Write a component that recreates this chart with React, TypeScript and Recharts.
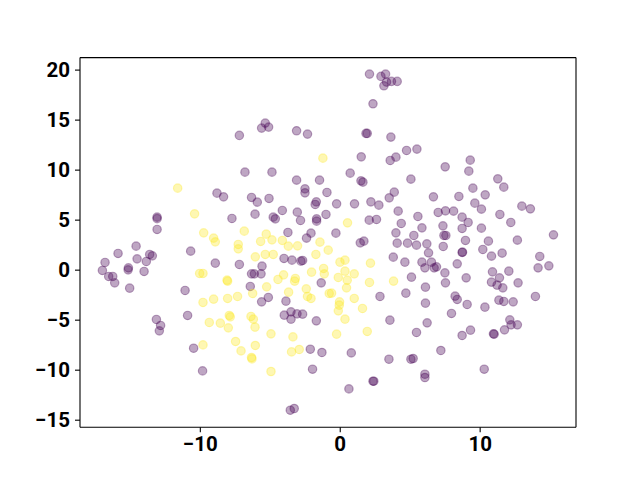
import React from "react";
import { ScatterChart, Scatter, XAxis, YAxis, ReferenceLine } from "recharts";

// cluster 0 (purple) points [x, y]
const purpleX = [
  -7.21, -5.36, -5.62, -5.12, -3.12, -2.34, -6.81, -4.88, -3.12, -1.48,
  2.09, 2.91, 3.24, 3.31, 3.12, 3.66, 4.07, 2.34, 1.84, 1.93, 3.62, 1.5, 3.57, 3.98, 4.74, 5.48, 7.5, 0.71, 1.48, 1.62, 5.05,
  9.29, 9.19, 11.26, 11.69,
  -13.09, -13.09, -13.09, -14.59, -15.88, -10.69, -13.62, -13.43, -14.52, -13.86, -16.81, -15.14, -15.16, -17.0, -14.02, -16.55, -16.26, -16.12, -15.05, -11.09,
  -8.81, -8.34, -6.34, -5.93, -5.09, -2.52, -2.52, -0.95, -1.71, -1.79, -7.74, -6.09, -4.79, -4.64, -4.14, -3.07, -2.84, -1.69, -1.69, -1.02,
  -3.74, -2.09, -2.41, -4.02, -3.45, -2.81, -2.69, -8.93, -7.21, -5.59, -6.34, -6.14, -5.66, -1.36, -6.43, -5.14, -5.62, -3.88,
  3.86, 3.5, 6.66, -0.26, 1.02, 2.19, 2.76, 4.14, 5.55, 7.0, 7.52, 8.1, 2.07, 2.59, 4.36, 5.84, 7.34, -0.31, 3.98, 5.26, 7.41, 7.55,
  1.43, 1.69, 4.07, 4.81, 5.45, 6.19, 7.36, 6.31, 3.79, 4.62, 5.84, 6.05, 6.52, 6.71, 6.88, 7.48, 5.09, 7.52, 6.09, 2.84, 4.69, 6.09,
  9.48, 8.48, 10.36, 9.62, 10.09, 12.98, 13.59, 11.41, 8.71, 9.14, 12.19, 8.71, 10.09, 15.24, 8.95, 10.59, 12.66, 8.71, 8.74, 10.19, 10.81, 11.57,
  14.26, 8.36, 14.14, 14.91, 10.88, 12.05, 9.0, 11.38, 10.81, 11.21, 11.62, 12.71, 13.95, 8.21, 8.36, 9.07, 10.34, 11.34, 11.69, 12.36,
  -13.14, -12.84, -12.93, -10.91, -10.48, -9.84,
  -4.0, -3.52, -3.52, -3.09, -2.69, -1.71, -2.14, -1.31, -1.98, -3.57, -3.29,
  3.55, 7.95, 6.21, 5.45, 0.79, 3.48, 5.05, 5.21, 7.19, 6.05, 6.05, 2.34, 2.4, 0.62,
  9.31, 8.71, 10.95, 11.0, 11.74, 12.12, 12.21, 12.66, 10.29,
];
const purpleY = [
  13.47, 14.7, 14.2, 14.3, 13.93, 13.6, 9.8, 9.8, 9.0, 9.0,
  19.6, 19.37, 19.6, 18.8, 18.43, 18.87, 18.87, 16.63, 13.67, 13.67, 13.3, 11.33, 10.97, 11.3, 11.97, 12.1, 10.33, 9.7, 8.93, 8.8, 9.1,
  11.0, 9.9, 9.13, 8.3,
  5.3, 5.15, 4.07, 2.4, 1.67, 1.9, 1.57, 1.43, 1.13, 0.87, 0.77, 0.23, 0.03, -0.03, -0.13, -0.63, -0.63, -1.27, -1.8, -2.03,
  7.7, 7.33, 7.27, 6.8, 7.17, 8.13, 7.73, 7.77, 6.83, 6.57, 5.17, 5.6, 5.3, 5.13, 5.97, 5.8, 4.97, 5.13, 4.9, 5.57,
  3.77, 3.7, 3.2, 1.17, 1.0, 0.9, 0.97, 0.7, 0.57, 0.4, -0.37, -0.37, -0.37, -1.27, -1.63, -2.73, -3.17, -3.1,
  7.8, 7.23, 7.33, 6.63, 6.63, 6.83, 6.5, 5.9, 5.37, 5.77, 5.93, 5.9, 5.0, 5.07, 4.67, 4.23, 4.43, 3.7, 3.73, 3.47, 3.47, 3.47,
  2.73, 2.9, 2.7, 2.7, 2.5, 2.63, 2.37, 1.73, 1.3, 0.8, 0.8, 0.23, 0.8, 0.23, 0.33, -0.27, -0.7, -1.27, -1.7, -2.63, -2.3, -3.3,
  8.2, 7.37, 7.53, 6.7, 6.1, 6.4, 6.13, 5.57, 5.3, 4.77, 4.77, 4.17, 4.2, 3.53, 2.97, 2.9, 3.0, 1.77, 1.8, 2.07, 1.4, 1.7,
  1.37, 0.63, 0.23, 0.43, -0.17, -0.1, -0.77, -0.77, -1.2, -1.5, -1.77, -1.27, -2.63, -2.6, -2.93, -3.43, -3.7, -3.0, -3.13, -3.17,
  -4.93, -5.53, -6.07, -4.53, -7.8, -10.07,
  -4.5, -4.17, -4.9, -4.37, -4.4, -5.07, -7.9, -8.23, -9.9, -14.0, -13.83,
  -5.0, -4.33, -5.27, -6.23, -8.27, -8.9, -8.9, -8.83, -8.03, -10.4, -10.73, -11.1, -11.1, -11.87,
  -6.0, -6.53, -6.37, -6.4, -5.97, -4.97, -5.47, -5.47, -9.9,
];

// cluster 1 (yellow) points
const yellowX = [
  -1.24, -11.62, -10.41, -9.76, -10.05, -9.81, -9.81, -9.05, -8.93, -6.86, -5.29, -5.69, -4.88, -4.14, -3.71, -3.05, -1.45,
  -7.29, -7.29, -6.07, -5.36, -4.79, -1.74, -0.86, -8.09, -8.05, -4.05, -4.45, -3.26, -3.21, -2.05, -1.19, -1.14,
  -5.26, -6.26, -3.69, -2.43, -2.34, -2.09, -0.79, -9.05, -8.05, -7.34,
  0.52, -0.02, 0.34, 2.16, 0.34, 1.0, -0.14, 0.5, 2.09, 3.81, 0.45, -0.62, -0.05, 1.0,
  -9.36, -9.81, -8.57, -8.0, -7.93, -7.86, -6.38, -6.21, -6.09, -4.95, -7.48, -7.09, -6.07, -6.34, -6.31, -4.95,
  -3.38, -3.48, -2.93, -0.07, -0.14, 1.59, 0.34, -0.26, 1.93,
];
const yellowY = [
  11.2, 8.2, 5.63, 3.73, -0.33, -0.33, -3.23, 3.2, 2.83, 3.9, 3.6, 2.87, 3.03, 2.97, 2.4, 2.43, 2.8,
  2.57, 2.13, 1.33, 1.57, 1.57, 1.57, 2.0, -1.0, -1.1, -0.47, -0.93, -1.1, -0.83, -0.2, 0.17, -0.37,
  -1.67, -2.33, -2.2, -1.87, -2.63, -2.83, -2.33, -2.9, -2.83, -2.63,
  4.73, 0.8, 1.0, 0.7, -0.1, -0.37, -0.73, -1.0, -1.23, -1.1, -1.77, -2.3, -3.17, -2.83,
  -5.23, -7.47, -5.3, -5.77, -4.53, -4.67, -4.63, -4.9, -5.7, -6.37, -7.13, -8.07, -7.53, -8.73, -8.87, -10.13,
  -6.67, -8.17, -7.93, -3.5, -4.07, -3.83, -4.9, -6.4, -6.13,
];

const xTicks = [-10, 0, 10];
const yTicks = [-15, -10, -5, 0, 5, 10, 15, 20];

const X_MIN = -18.6;
const X_MAX = 16.85;
const Y_MIN = -15.7;
const Y_MAX = 21.25;

const PURPLE = "#440154";
const YELLOW = "#fde725";

const purpleData = purpleX.map((x, i) => ({ x, y: purpleY[i] }));
const yellowData = yellowX.map((x, i) => ({ x, y: yellowY[i] }));

const fmt = (v: number) => (v < 0 ? "\u2212" + Math.abs(v) : String(v));

const makeShape = (color: string) => (props: any) => (
  <circle
    cx={props.cx}
    cy={props.cy}
    r={4.2}
    fill={color}
    fillOpacity={0.35}
    stroke={color}
    strokeOpacity={0.35}
    strokeWidth={1.2}
  />
);

const tickStyle = {
  fill: "#000",
  fontFamily: "Roboto, 'DejaVu Sans', sans-serif",
  fontWeight: 700,
  fontSize: 20.5,
};

export default function App() {
  return (
    <div style={{ position: "absolute", left: 0, top: 0, width: 640, height: 480, background: "#fff" }}>
      <ScatterChart
        width={640}
        height={480}
        margin={{ top: 57.6, right: 64, bottom: 0, left: 0 }}
      >
        <XAxis
          type="number"
          dataKey="x"
          domain={[X_MIN, X_MAX]}
          ticks={xTicks}
          tickFormatter={fmt}
          allowDataOverflow
          height={52.8}
          axisLine={{ stroke: "#000", strokeWidth: 1.1 }}
          tickLine={{ stroke: "#000", strokeWidth: 1.1 }}
          tickSize={5}
          tickMargin={4}
          tick={tickStyle}
        />
        <YAxis
          type="number"
          dataKey="y"
          domain={[Y_MIN, Y_MAX]}
          ticks={yTicks}
          tickFormatter={fmt}
          allowDataOverflow
          width={80}
          axisLine={{ stroke: "#000", strokeWidth: 1.1 }}
          tickLine={{ stroke: "#000", strokeWidth: 1.1 }}
          tickSize={5}
          tickMargin={5}
          tick={tickStyle}
        />
        <ReferenceLine y={Y_MAX} stroke="#000" strokeWidth={1.1} />
        <ReferenceLine x={X_MAX} stroke="#000" strokeWidth={1.1} />
        <Scatter data={purpleData} isAnimationActive={false} shape={makeShape(PURPLE)} />
        <Scatter data={yellowData} isAnimationActive={false} shape={makeShape(YELLOW)} />
      </ScatterChart>
    </div>
  );
}
